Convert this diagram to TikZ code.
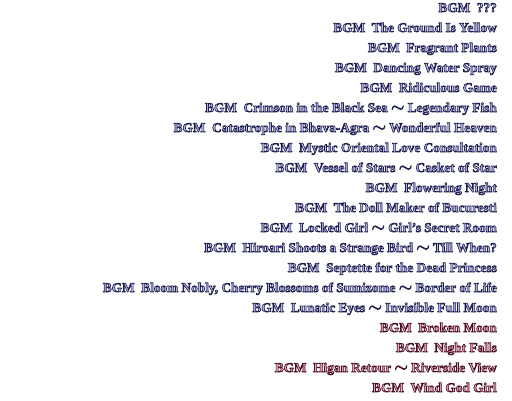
\documentclass[tikz,border=0pt]{standalone}
\usepackage{fontspec}
\setmainfont{Liberation Serif}
\usepackage{tikz}
\usetikzlibrary{positioning}

\definecolor{bluefill}{rgb}{0.72,0.72,0.94}
\definecolor{pinkfill}{rgb}{0.92,0.64,0.74}
% outlined text: fill + stroke render mode
\newcommand{\outlined}[2]{\special{pdf:literal direct 2 Tr 0.65 w #1 RG}#2\special{pdf:literal direct 0 Tr}}
\newcommand{\wave}{{\fontsize{17.5}{18}\selectfont$\sim$}}

\tikzset{
  bgmblue/.style={anchor=base east, inner sep=0pt, text=bluefill,
    font=\fontsize{13.3}{14}\selectfont\bfseries},
  bgmpink/.style={bgmblue, text=pinkfill}
}
\newcommand{\bl}[1]{\outlined{0.12 0.12 0.30}{BGM\ \ #1}}
\newcommand{\pk}[1]{\outlined{0.28 0.06 0.14}{BGM\ \ #1}}

\begin{document}
\begin{tikzpicture}[x=1pt,y=1pt]
      \useasboundingbox (0,0) rectangle (512,-400);
      \node[bgmblue] (t1) at (497,-12) {\bl{???}};
      \node[bgmblue] (t2) at (497,-32) {\bl{The Ground Is Yellow}};
      \node[bgmblue] (t3) at (497,-52) {\bl{Fragrant Plants}};
      \node[bgmblue] (t4) at (497,-72) {\bl{Dancing Water Spray}};
      \node[bgmblue] (t5) at (497,-92) {\bl{Ridiculous Game}};
      \node[bgmblue] (t6) at (497,-112) {\bl{Crimson in the Black Sea \wave{} Legendary Fish}};
      \node[bgmblue] (t7) at (497,-132) {\bl{Catastrophe in Bhava-Agra \wave{} Wonderful Heaven}};
      \node[bgmblue] (t8) at (497,-152) {\bl{Mystic Oriental Love Consultation}};
      \node[bgmblue] (t9) at (497,-172) {\bl{Vessel of Stars \wave{} Casket of Star}};
      \node[bgmblue] (t10) at (497,-192) {\bl{Flowering Night}};
      \node[bgmblue] (t11) at (497,-212) {\bl{The Doll Maker of Bucuresti}};
      \node[bgmblue] (t12) at (497,-232) {\bl{Locked Girl \wave{} Girl's Secret Room}};
      \node[bgmblue] (t13) at (497,-252) {\bl{Hiroari Shoots a Strange Bird \wave{} Till When?}};
      \node[bgmblue] (t14) at (497,-272) {\bl{Septette for the Dead Princess}};
      \node[bgmblue] (t15) at (497,-292) {\bl{Bloom Nobly, Cherry Blossoms of Sumizome \wave{} Border of Life}};
      \node[bgmblue] (t16) at (497,-312) {\bl{Lunatic Eyes \wave{} Invisible Full Moon}};
      \node[bgmpink] (t17) at (497,-332) {\pk{Broken Moon}};
      \node[bgmpink] (t18) at (497,-352) {\pk{Night Falls}};
      \node[bgmpink] (t19) at (497,-372) {\pk{Higan Retour \wave{} Riverside View}};
      \node[bgmpink] (t20) at (497,-392) {\pk{Wind God Girl}};
    \end{tikzpicture}
\end{document}
